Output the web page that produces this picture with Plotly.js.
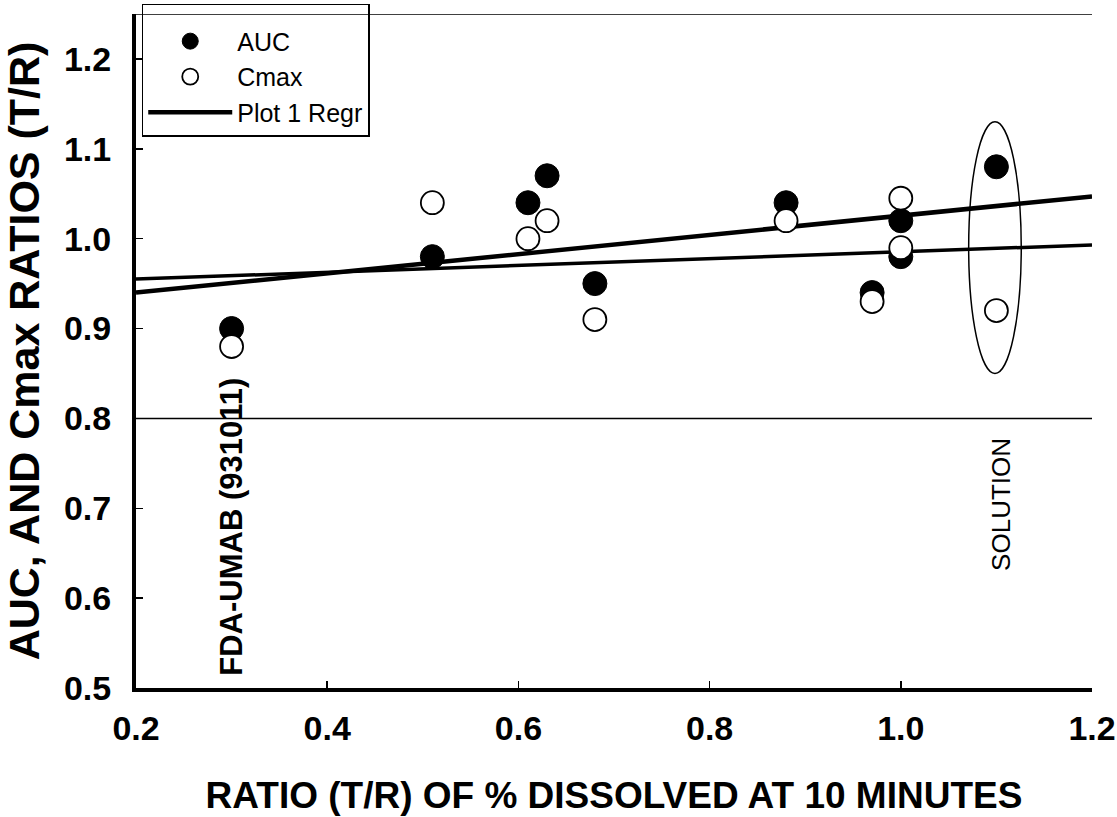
<!DOCTYPE html>
<html>
<head>
<meta charset="utf-8">
<script src="https://cdn.plot.ly/plotly-3.0.1.min.js"></script>
<style>
  html, body { margin: 0; padding: 0; background: #fff; }
  #chart { width: 1117px; height: 817px; }
</style>
</head>
<body>
<div id="chart"></div>
<script>
// Dissolution ratio (T/R) at 10 minutes vs. bioavailability ratios
const aucX  = [0.30, 0.51, 0.61, 0.63, 0.68, 0.88, 0.97, 1.00, 1.00, 1.10];
const aucY  = [0.90, 0.98, 1.04, 1.07, 0.95, 1.04, 0.94, 1.02, 0.98, 1.08];
const cmaxX = [0.30, 0.51, 0.61, 0.63, 0.68, 0.88, 0.97, 1.00, 1.00, 1.10];
const cmaxY = [0.88, 1.04, 1.00, 1.02, 0.91, 1.02, 0.93, 1.045, 0.99, 0.92];

// Fitted regression lines, sampled at the ends of the x range
const regrX      = [0.2, 1.2];
const regrAucY   = [0.940, 1.047];
const regrCmaxY  = [0.955, 0.993];

// Bioequivalence limits
const beLimits = [0.80, 1.25];

const xTicks = [0.2, 0.4, 0.6, 0.8, 1.0, 1.2];
const yTicks = [0.5, 0.6, 0.7, 0.8, 0.9, 1.0, 1.1, 1.2];

const FONT = '"Liberation Sans", Arial, Helvetica, sans-serif';

const traces = [
  {
    x: regrX, y: regrAucY, type: 'scatter', mode: 'lines',
    name: 'Plot 1 Regr', legendgroup: 'regr', legendrank: 3,
    line: { color: '#000', width: 4.5 }, hoverinfo: 'skip'
  },
  {
    x: regrX, y: regrCmaxY, type: 'scatter', mode: 'lines',
    name: 'Plot 1 Regr', legendgroup: 'regr', showlegend: false,
    line: { color: '#000', width: 3.5 }, hoverinfo: 'skip'
  },
  {
    x: aucX, y: aucY, type: 'scatter', mode: 'markers',
    name: 'AUC', legendrank: 1,
    marker: { symbol: 'circle', size: 24, color: '#000', line: { color: '#000', width: 1 } }
  },
  {
    x: cmaxX, y: cmaxY, type: 'scatter', mode: 'markers',
    name: 'Cmax', legendrank: 2,
    marker: { symbol: 'circle', size: 23, color: '#fff', line: { color: '#000', width: 1.8 } }
  }
];

const shapes = beLimits.map(v => ({
  type: 'line', xref: 'paper', yref: 'y', x0: 0, x1: 1, y0: v, y1: v,
  line: { color: '#000', width: 1.5 }
}));
// ring around the solution reference points
shapes.push({
  type: 'circle', xref: 'x', yref: 'y',
  x0: 1.071, x1: 1.126, y0: 0.85, y1: 1.13,
  line: { color: '#000', width: 1.5 }
});

const layout = {
  width: 1117, height: 817,
  margin: { l: 136, r: 25, t: 14, b: 129, autoexpand: false },
  paper_bgcolor: '#fff', plot_bgcolor: '#fff',
  font: { family: FONT, color: '#000' },
  showlegend: true,
  legend: {
    x: 0.006, y: 1.015, xanchor: 'left', yanchor: 'top',
    bgcolor: 'rgba(0,0,0,0)', bordercolor: '#000', borderwidth: 1.5,
    font: { family: FONT, size: 25, color: '#000' },
    title: { text: ' ', font: { family: FONT, size: 10 } },
    itemwidth: 84, tracegroupgap: 0
  },
  xaxis: {
    range: [0.2, 1.2], tickvals: xTicks, tickformat: '.1f',
    ticks: 'inside', ticklen: 7, tickwidth: 1.5, tickcolor: '#000',
    showline: true, linecolor: '#000', linewidth: 4,
    showgrid: false, zeroline: false,
    tickfont: { family: FONT, size: 34, color: '#000', weight: 'bold' },
    ticklabelstandoff: 7,
    title: { text: '<b>RATIO (T/R) OF % DISSOLVED AT 10 MINUTES</b>',
             font: { family: FONT, size: 37, color: '#000' }, standoff: 37 },
    automargin: false
  },
  yaxis: {
    range: [0.5, 1.25], tickvals: yTicks, tickformat: '.1f',
    ticks: 'inside', ticklen: 7, tickwidth: 1.5, tickcolor: '#000',
    showline: true, linecolor: '#000', linewidth: 4,
    showgrid: false, zeroline: false,
    tickfont: { family: FONT, size: 34, color: '#000', weight: 'bold' },
    ticklabelstandoff: 14,
    title: { text: '<b>AUC, AND Cmax RATIOS (T/R)</b>',
             font: { family: FONT, size: 43, color: '#000' }, standoff: 12 },
    automargin: false
  },
  shapes: shapes,
  annotations: [
    {
      x: 0.30, y: 0.679, xref: 'x', yref: 'y', showarrow: false,
      text: '<b>FDA-UMAB (931011)</b>', textangle: -90,
      xanchor: 'center', yanchor: 'middle',
      font: { family: FONT, size: 31, color: '#000' }
    },
    {
      x: 1.104, y: 0.704, xref: 'x', yref: 'y', showarrow: false,
      text: 'SOLUTION', textangle: -90,
      xanchor: 'center', yanchor: 'middle',
      font: { family: FONT, size: 26, color: '#000' }
    }
  ]
};

Plotly.newPlot('chart', traces, layout, { displayModeBar: false, staticPlot: true });
</script>
</body>
</html>
